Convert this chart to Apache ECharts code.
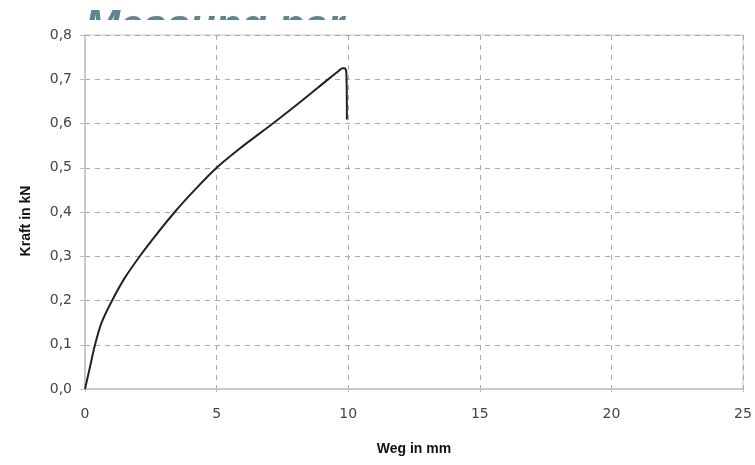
<!DOCTYPE html>
<html>
<head>
<meta charset="utf-8">
<script src="https://cdn.jsdelivr.net/npm/echarts@6/dist/echarts.min.js"></script>
<style>html,body{margin:0;padding:0;background:#fff}#c{width:755px;height:465px}</style>
</head>
<body>
<div id="c"></div>
<script>
var titleText = 'Messung par';
var xName = 'Weg in mm';
var yName = 'Kraft in kN';
var weg = [0, 0.19, 0.38, 0.63, 1.03, 1.5, 2.08, 2.59, 3.41, 4.17, 5.0, 5.87, 7.2, 8.25, 9.2, 9.6, 9.78, 9.87, 9.93, 9.95];
var kraft = [0, 0.05, 0.1, 0.15, 0.2, 0.25, 0.3, 0.34, 0.4, 0.45, 0.5, 0.543, 0.603, 0.652, 0.698, 0.717, 0.725, 0.725, 0.715, 0.609];

var data = weg.map(function (x, i) { return [x, kraft[i]]; });
var chart = echarts.init(document.getElementById('c'));
chart.setOption({
  animation: false,
  graphic: [
    { type: 'text', z: -20, left: 85, top: 6,
      style: { text: titleText, x: 0, y: 0, font: 'italic bold 42px "Liberation Sans", Arial, sans-serif', fill: '#5f8690' } },
    { type: 'rect', z: -10, shape: { x: 75, y: 20, width: 330, height: 16 }, style: { fill: '#fff' } }
  ],
  grid: { left: 85, right: 12, top: 35, bottom: 76, show: true, backgroundColor: '#fff', borderColor: '#c8c8c8', borderWidth: 1 },
  xAxis: {
    type: 'value', min: 0, max: 25, interval: 5,
    name: xName, nameLocation: 'middle', nameGap: 53,
    nameTextStyle: { fontWeight: 'bold', fontSize: 14, color: '#111', fontFamily: 'Liberation Sans' },
    axisLine: { lineStyle: { color: '#c8c8c8', width: 2 } },
    axisTick: { show: true, length: 3, lineStyle: { color: '#bbb' } },
    axisLabel: { color: '#444', fontSize: 14, margin: 18, fontFamily: 'DejaVu Sans' },
    splitLine: { show: true, lineStyle: { type: [5, 5], color: '#aaa', width: 1 } }
  },
  yAxis: {
    type: 'value', min: 0, max: 0.8, interval: 0.1,
    name: yName, nameLocation: 'middle', nameGap: 52, nameRotate: 90,
    nameTextStyle: { fontWeight: 'bold', fontSize: 14, color: '#111', fontFamily: 'Liberation Sans', padding: [0, 18, 0, 0] },
    axisLine: { show: true, lineStyle: { color: '#c8c8c8', width: 2 } },
    axisTick: { show: true, length: 5, lineStyle: { color: '#bbb' } },
    axisLabel: { color: '#444', fontSize: 14, margin: 13, fontFamily: 'DejaVu Sans',
      formatter: function (v) { return v.toFixed(1).replace('.', ','); } },
    splitLine: { show: true, lineStyle: { type: [5, 5], color: '#aaa', width: 1 } }
  },
  series: [{
    type: 'line', data: data, showSymbol: false, smooth: 0.3,
    lineStyle: { color: '#222', width: 2 }
  }]
});
</script>
</body>
</html>
